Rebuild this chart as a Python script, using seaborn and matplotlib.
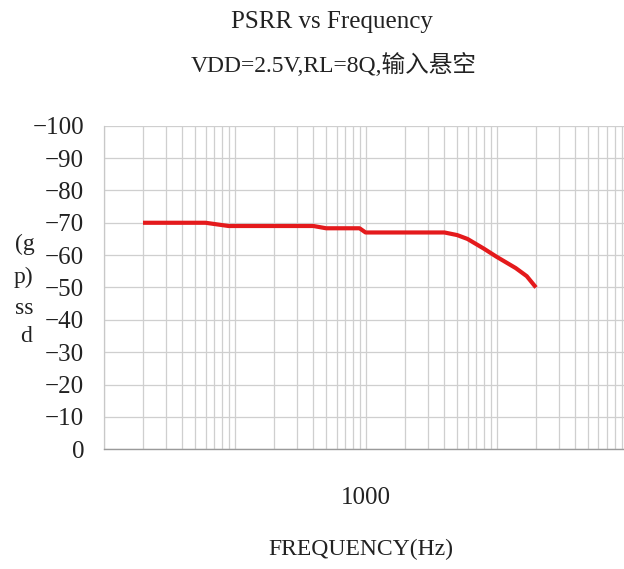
import matplotlib
matplotlib.use("Agg")
import matplotlib.pyplot as plt
from matplotlib.ticker import LogLocator, FixedLocator, FuncFormatter, NullFormatter
import seaborn as sns
import pandas as pd

# PSRR measurement, VDD = 2.5 V, RL = 8 ohm, input floating
freq_hz = [20, 60, 90, 400, 500, 900, 1000, 4000, 5000, 6000, 8000, 10000, 14000, 17000, 20000]
psrr_db = [-70, -70, -69, -69, -68.3, -68.3, -67, -67, -66.2, -65, -62, -59.5, -56, -53.5, -50]

y_ticks = list(range(0, -101, -10))
x_labelled = [1000]

title_lines = ["PSRR vs Frequency", "VDD=2.5V,RL=8Q,输入悬空"]
x_label = "FREQUENCY(Hz)"
y_label_lines = ["(g", "p)", "ss", "d"]

sns.set_theme(style="white")
serif = ["Liberation Serif", "Noto Sans CJK SC", "DejaVu Sans"]
plt.rcParams["font.family"] = serif

df = pd.DataFrame({"freq": freq_hz, "psrr": psrr_db})

fig = plt.figure(figsize=(6.24, 5.69), dpi=100)
ax = fig.add_axes([0.166, 0.2104, 0.8397, 0.5687])

sns.lineplot(data=df, x="freq", y="psrr", ax=ax, color="#e41a1c",
             linewidth=3.0, solid_capstyle="butt", zorder=3)

ax.set_xscale("log")
ax.set_xlim(10, 1e5)
ax.set_ylim(0, -100)

ax.xaxis.set_major_locator(LogLocator(base=10, numticks=10))
ax.xaxis.set_minor_locator(LogLocator(base=10, subs=range(2, 10), numticks=20))
ax.xaxis.set_major_formatter(FuncFormatter(
    lambda v, p: f"{int(round(v))}" if int(round(v)) in x_labelled else ""))
ax.xaxis.set_minor_formatter(NullFormatter())
ax.yaxis.set_major_locator(FixedLocator(y_ticks))
ax.yaxis.set_major_formatter(FuncFormatter(
    lambda v, p: f"{int(v)}".replace("-", "\u2212")))

ax.grid(True, which="both", axis="x", color="#cfcfcf", linewidth=0.9)
ax.grid(True, which="major", axis="y", color="#cfcfcf", linewidth=0.9)

ax.tick_params(axis="both", which="both", length=0)
ax.tick_params(axis="y", labelsize=18, pad=14, labelcolor="#222222")
ax.tick_params(axis="x", labelsize=18, pad=27, labelcolor="#222222")

for side in ["top", "right"]:
    ax.spines[side].set_visible(False)
ax.spines["bottom"].set_color("#9a9a9a")
ax.spines["bottom"].set_linewidth(1.0)
ax.spines["left"].set_color("#c8c8c8")
ax.spines["left"].set_linewidth(0.9)

ax.set_xlabel("")
ax.set_ylabel("")
fig.text(361 / 624, 1 - 549 / 569, x_label, ha="center", va="center",
         fontsize=17, color="#222222", family=serif)

fig.text(0.532, 1 - 22 / 569, title_lines[0], ha="center", va="center",
         fontsize=18, color="#222222", family=serif)
fig.text(0.535, 1 - 65 / 569, title_lines[1], ha="center", va="center",
         fontsize=17, color="#222222", family=serif)

y_positions = [244, 277, 309, 337]
x_positions = [25, 23, 24, 26]
for txt, xp, yp in zip(y_label_lines, x_positions, y_positions):
    fig.text(xp / 624, 1 - yp / 569, txt, ha="center", va="center",
             fontsize=17, color="#222222", family=serif)

fig.savefig("out.png", dpi=100)
